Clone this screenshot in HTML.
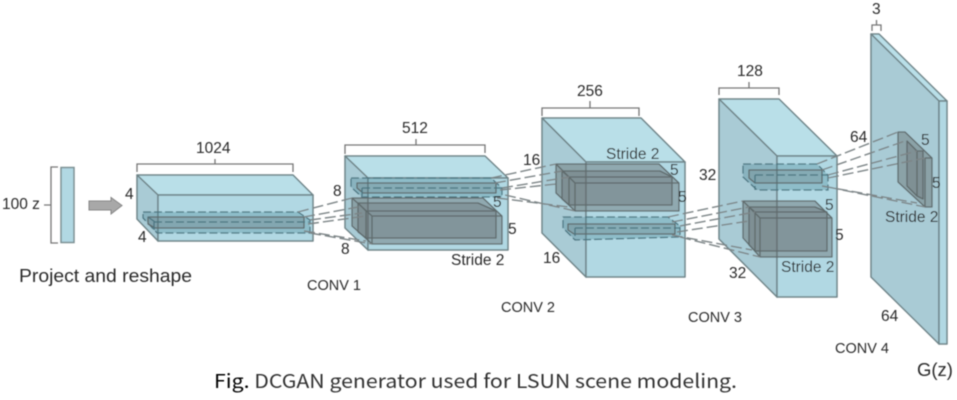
<!DOCTYPE html>
<html><head><meta charset="utf-8"><style>
html,body{margin:0;padding:0;background:#fff;width:957px;height:400px;overflow:hidden}
svg{display:block}
text{font-family:"Liberation Sans",sans-serif;fill:#2b2b2b;font-size:15.500px}
.b{fill:#b1d8e3;stroke:#6f8488;stroke-width:1.5;stroke-linejoin:round}
.t{fill:#b9dfe8;stroke:#6f8488;stroke-width:1.5;stroke-linejoin:round}
.s{fill:#a9cbd5;stroke:#6f8488;stroke-width:1.5;stroke-linejoin:round}
.k{fill:#62686a;fill-opacity:.42;stroke:#5f6a6c;stroke-width:1.3;stroke-linejoin:round}
.d{fill:#3f7f90;fill-opacity:.3;stroke:#4a7480;stroke-width:1.3;stroke-dasharray:8 3}
.l{fill:none;stroke:#7d8587;stroke-width:1.4;stroke-dasharray:11 4}
.br{fill:none;stroke:#777;stroke-width:1.3}
.c{font-size:14.500px}
</style></head><body>
<svg width="957" height="400" viewBox="0 0 957 400" xmlns="http://www.w3.org/2000/svg">
<defs><filter id="bl" x="-2%" y="-2%" width="104%" height="104%"><feGaussianBlur stdDeviation="0.45"/></filter></defs>
<g filter="url(#bl)">
<!-- z vector -->
<path class="br" d="M58 167H51V243H58M44 205H51"/>
<rect x="61" y="167.500" width="13" height="75" fill="#b1d8e3" stroke="#7c8f93" stroke-width="1.500"/>
<path d="M89 201H111V197.500L122 205.500L111 214V210H89Z" fill="#a8a8a8" stroke="#858585"/>

<!-- block 1 -->
<path class="br" d="M137 172V164H293V172M215 164V159"/>
<polygon class="t" points="137,175 293,175 313,195 158,195"/>
<polygon class="s" points="137,175 158,195 158,241 137,219"/>
<rect class="b" x="158" y="195" width="155" height="46"/>
<polygon class="d" points="143,212 298,212 310,220 310,233 157,233 143,218"/>
<polygon class="k" style="fill-opacity:.25" points="148,217 304,217 304,228 155,228 148,224"/>
<path class="d" style="fill:none" d="M154 222H309M154 222V233M148 217L155 222"/>

<!-- block 2 -->
<path class="br" d="M345 154V145H485V153M416 145V139"/>
<polygon class="t" points="345,156 485,156 508,178 368,178"/>
<polygon class="s" points="345,156 368,178 368,250 345,228"/>
<rect class="b" x="368" y="178" width="140" height="72"/>
<polygon class="d" points="351,178 491,178 502,188 502,197 362,197 351,187"/>
<polygon class="k" style="fill-opacity:.2" points="357,183 496,183 496,193 363,193 357,188"/>
<path class="d" style="fill:none" d="M362 188H502M362 188V197"/>
<polygon class="k" points="352,198 483,198 502,216 502,244 372,244 352,226"/>
<polygon class="k" style="fill-opacity:.3" points="358,203 478,203 496,211 496,238 366,238 358,232"/>
<path class="k" style="fill:none" d="M352 198L372 216V244M372 216H502M358 203L366 211V238M366 211H496"/>

<!-- block 3 -->
<path class="br" d="M542 116V108H639V116M590 108V101"/>
<polygon class="t" points="542,118 641,118 685,162 586,162"/>
<polygon class="s" points="542,118 586,162 586,277 542,233"/>
<polygon class="b" points="586,162 685,162 685,277 586,277"/>
<polygon class="k" points="556,164 659,164 679,183 679,211 575,211 556,193"/>
<polygon class="k" style="fill-opacity:.3" points="562,171 660,171 672,177 672,205 569,205 562,199"/>
<path class="k" style="fill:none" d="M556 164L575 183V211M575 183H679M562 171L569 177V205M569 177H672"/>
<polygon class="d" points="563,217 668,217 680,226 680,237 575,240 563,228"/>
<polygon class="k" style="fill-opacity:.2" points="568,224 675,224 675,234 574,234 568,230"/>
<path class="d" style="fill:none" d="M575 228H680M575 228V240"/>

<!-- block 4 -->
<path class="br" d="M719 95V88H779V95M749 88V82"/>
<polygon class="t" points="719,99 779,99 837,156 777,156"/>
<polygon class="s" points="719,99 777,156 777,297 719,239"/>
<polygon class="b" points="777,156 837,156 837,297 777,297"/>
<polygon class="d" points="743,164 817,164 828,175 828,190 757,190 743,177"/>
<polygon class="k" style="fill-opacity:.2" points="749,170 822,170 822,183 755,183 749,178"/>
<path class="d" style="fill:none" d="M755 175H828M755 175V190"/>
<polygon class="k" points="743,201 815,201 832,218 832,257 760,257 743,238"/>
<polygon class="k" style="fill-opacity:.3" points="749,207 815,207 827,212 827,251 755,251 749,245"/>
<path class="k" style="fill:none" d="M743 201L760 218V257M760 218H832M749 207L755 212V251M755 212H827"/>

<!-- block 5 -->
<path class="br" d="M872 31V25H881V31M876.500 25V20"/>
<polygon class="t" points="871,34 879,34 947,101 939,101"/>
<polygon class="s" points="871,34 939,101 939,344 871,277"/>
<rect class="b" x="939" y="101" width="8" height="243"/>
<polygon class="k" points="898,132 905,132 932,158 932,207 925,207 898,182"/>
<polygon class="k" style="fill-opacity:.3" points="907,141 917,151 923,151 923,199 917,196 907,186"/>
<path class="k" style="fill:none" d="M925 158V207M917 151V196M925 158H932"/>

<!-- connectors -->
<path class="l" d="M298 212L352 198M304 217L358 207M310 220L362 213M308 224L366 216M310 233L372 244M304 231L366 241"/>
<path class="l" d="M491 178L556 164M495 183L562 171M502 188L569 177M500 190L556 184M505 195L575 211M497 198L569 207"/>
<path class="l" d="M668 217L743 201M672 222L749 207M680 226L755 212M677 232L749 221M680 237L760 257M672 235L752 250"/>
<path class="l" d="M817 164L898 132M822 170L905 141M828 175L917 151M828 178L925 158M828 187L925 207M822 186L917 203"/>

<!-- labels -->
<text x="196" y="153">1024</text>
<text x="402" y="133">512</text>
<text x="577" y="96">256</text>
<text x="737" y="76">128</text>
<text x="872" y="14">3</text>
<text x="2" y="209">100 z</text>
<text x="19" y="282" style="font-size:18px" textLength="173" lengthAdjust="spacingAndGlyphs">Project and reshape</text>
<text x="125" y="199">4</text>
<text x="138" y="242">4</text>
<text x="333" y="196">8</text>
<text x="341" y="254">8</text>
<text x="523" y="165">16</text>
<text x="543" y="263">16</text>
<text x="699" y="180">32</text>
<text x="729" y="278">32</text>
<text x="850" y="142">64</text>
<text x="881" y="321">64</text>
<text x="493" y="207">5</text>
<text x="508" y="234">5</text>
<text x="670" y="175">5</text>
<text x="678" y="202">5</text>
<text x="825" y="210">5</text>
<text x="835" y="240">5</text>
<text x="921" y="145">5</text>
<text x="932" y="188">5</text>
<text x="451" y="265">Stride 2</text>
<text x="606" y="159">Stride 2</text>
<text x="781" y="272">Stride 2</text>
<text x="885" y="222">Stride 2</text>
<text class="c" x="307" y="290">CONV 1</text>
<text class="c" x="501" y="312">CONV 2</text>
<text class="c" x="688" y="322">CONV 3</text>
<text class="c" x="835" y="353">CONV 4</text>
<text x="917" y="376" style="font-size:18.500px">G(z)</text>
<text x="214" y="388" style="font-family:'Noto Sans CJK KR','Liberation Sans',sans-serif;font-size:19px;fill:#333" textLength="523" lengthAdjust="spacingAndGlyphs"><tspan style="fill:#000">Fig.</tspan> DCGAN generator used for LSUN scene modeling.</text>
</g>
</svg>
</body></html>
